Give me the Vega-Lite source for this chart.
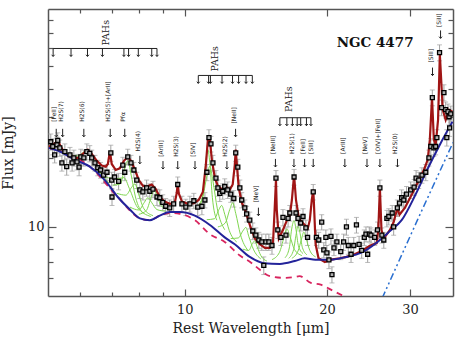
{
"$schema":"https://vega.github.io/schema/vega-lite/v6.json",
"width":405,"height":287,
"autosize":{"type":"none"},
"padding":{"left":48,"top":9,"right":16,"bottom":46},
"config":{"view":{"stroke":null},"font":"DejaVu Serif"},
"datasets":{
"pts":[{"w":5.20,"f":23.5,"e":1.9},{"w":5.25,"f":22.4,"e":1.8},{"w":5.30,"f":20.6,"e":1.6},{"w":5.36,"f":22.8,"e":1.8},{"w":5.38,"f":23.8,"e":1.9},{"w":5.435,"f":22.1,"e":1.8},{"w":5.49,"f":19.0,"e":1.5},{"w":5.57,"f":21.3,"e":1.7},{"w":5.62,"f":18.3,"e":1.5},{"w":5.71,"f":20.6,"e":1.6},{"w":5.77,"f":19.0,"e":1.5},{"w":5.82,"f":20.0,"e":1.6},{"w":5.91,"f":19.2,"e":1.5},{"w":5.97,"f":18.2,"e":1.5},{"w":6.02,"f":20.2,"e":1.6},{"w":6.11,"f":20.0,"e":1.6},{"w":6.20,"f":21.3,"e":1.7},{"w":6.29,"f":20.9,"e":1.7},{"w":6.35,"f":20.0,"e":1.6},{"w":6.45,"f":19.0,"e":1.5},{"w":6.54,"f":18.1,"e":1.4},{"w":6.63,"f":17.7,"e":1.4},{"w":6.73,"f":16.8,"e":1.3},{"w":6.84,"f":17.3,"e":1.4},{"w":6.97,"f":21.0,"e":1.7},{"w":7.00,"f":16.0,"e":1.3},{"w":7.01,"f":13.5,"e":1.1},{"w":7.10,"f":16.5,"e":1.3},{"w":7.24,"f":15.8,"e":1.3},{"w":7.39,"f":18.6,"e":1.5},{"w":7.46,"f":17.3,"e":1.4},{"w":7.57,"f":20.2,"e":1.6},{"w":7.69,"f":19.0,"e":1.5},{"w":7.80,"f":17.7,"e":1.4},{"w":7.91,"f":16.0,"e":1.3},{"w":8.03,"f":14.5,"e":1.2},{"w":8.15,"f":14.2,"e":1.1},{"w":8.30,"f":14.8,"e":1.2},{"w":8.43,"f":14.3,"e":1.1},{"w":8.56,"f":14.6,"e":1.2},{"w":8.73,"f":13.5,"e":1.1},{"w":8.85,"f":13.4,"e":1.1},{"w":8.98,"f":12.8,"e":1.0},{"w":9.11,"f":12.3,"e":1.0},{"w":9.29,"f":12.1,"e":1.0},{"w":9.47,"f":12.6,"e":1.0},{"w":9.66,"f":15.3,"e":1.2},{"w":9.86,"f":12.6,"e":1.0},{"w":10.05,"f":12.2,"e":1.0},{"w":10.25,"f":12.6,"e":1.0},{"w":10.45,"f":13.0,"e":1.0},{"w":10.65,"f":12.2,"e":1.0},{"w":10.87,"f":12.3,"e":1.0},{"w":11.03,"f":13.1,"e":1.0},{"w":11.14,"f":17.3,"e":1.4},{"w":11.25,"f":24.5,"e":2.0},{"w":11.36,"f":23.0,"e":1.8},{"w":11.47,"f":19.0,"e":1.5},{"w":11.64,"f":16.3,"e":1.3},{"w":11.75,"f":14.8,"e":1.2},{"w":11.86,"f":14.0,"e":1.1},{"w":12.03,"f":14.3,"e":1.1},{"w":12.15,"f":15.0,"e":1.2},{"w":12.33,"f":14.5,"e":1.2},{"w":12.51,"f":13.9,"e":1.1},{"w":12.70,"f":13.3,"e":1.1},{"w":12.82,"f":21.0,"e":1.7},{"w":12.95,"f":18.2,"e":1.5},{"w":13.08,"f":14.8,"e":1.2},{"w":13.20,"f":13.1,"e":1.0},{"w":13.40,"f":12.1,"e":1.0},{"w":13.52,"f":11.4,"e":0.9},{"w":13.73,"f":10.7,"e":0.9},{"w":13.93,"f":9.6,"e":0.8},{"w":14.14,"f":9.2,"e":0.7},{"w":14.35,"f":8.77,"e":0.7},{"w":14.56,"f":8.6,"e":0.7},{"w":14.70,"f":6.8,"e":0.6},{"w":14.85,"f":8.6,"e":0.7},{"w":15.07,"f":8.6,"e":0.7},{"w":15.30,"f":8.3,"e":0.7},{"w":15.60,"f":16.3,"e":1.3},{"w":15.74,"f":9.7,"e":0.8},{"w":15.98,"f":9.0,"e":0.7},{"w":16.14,"f":11.0,"e":0.9},{"w":16.38,"f":9.2,"e":0.7},{"w":16.55,"f":10.9,"e":0.9},{"w":16.69,"f":11.5,"e":0.9},{"w":17.04,"f":16.5,"e":1.3},{"w":17.20,"f":11.5,"e":0.9},{"w":17.37,"f":10.9,"e":0.9},{"w":17.60,"f":10.4,"e":0.8},{"w":17.80,"f":11.1,"e":0.9},{"w":18.05,"f":9.9,"e":0.8},{"w":18.20,"f":9.0,"e":0.7},{"w":18.71,"f":14.2,"e":1.1},{"w":19.00,"f":9.0,"e":0.7},{"w":19.22,"f":8.77,"e":0.7},{"w":19.50,"f":10.5,"e":0.8},{"w":19.70,"f":7.94,"e":0.6},{"w":19.90,"f":9.0,"e":0.7},{"w":20.00,"f":7.7,"e":0.6},{"w":20.20,"f":7.18,"e":0.6},{"w":20.40,"f":9.1,"e":0.7},{"w":20.50,"f":6.2,"e":0.5},{"w":20.70,"f":8.1,"e":0.6},{"w":21.00,"f":8.6,"e":0.7},{"w":21.40,"f":7.8,"e":0.6},{"w":21.70,"f":8.6,"e":0.7},{"w":22.00,"f":10.0,"e":0.8},{"w":22.20,"f":8.3,"e":0.7},{"w":22.50,"f":7.6,"e":0.6},{"w":22.80,"f":8.3,"e":0.7},{"w":23.10,"f":10.2,"e":0.8},{"w":23.40,"f":8.4,"e":0.7},{"w":23.70,"f":7.9,"e":0.6},{"w":24.00,"f":9.0,"e":0.7},{"w":24.20,"f":9.3,"e":0.7},{"w":24.40,"f":7.6,"e":0.6},{"w":24.60,"f":9.3,"e":0.7},{"w":24.80,"f":9.2,"e":0.7},{"w":25.25,"f":9.0,"e":0.7},{"w":25.60,"f":9.7,"e":0.8},{"w":25.90,"f":14.8,"e":1.2},{"w":26.15,"f":9.2,"e":0.7},{"w":26.40,"f":8.77,"e":0.7},{"w":26.80,"f":10.9,"e":0.9},{"w":27.05,"f":11.1,"e":0.9},{"w":27.50,"f":11.5,"e":0.9},{"w":27.70,"f":10.0,"e":0.8},{"w":28.20,"f":12.1,"e":1.0},{"w":28.50,"f":12.7,"e":1.0},{"w":28.80,"f":13.4,"e":1.1},{"w":29.10,"f":13.1,"e":1.0},{"w":29.50,"f":13.9,"e":1.1},{"w":30.10,"f":14.5,"e":1.2},{"w":30.60,"f":14.9,"e":1.2},{"w":30.90,"f":16.3,"e":1.3},{"w":31.30,"f":16.0,"e":1.3},{"w":31.80,"f":16.8,"e":1.3},{"w":32.40,"f":17.3,"e":1.4},{"w":32.90,"f":20.0,"e":1.6},{"w":33.20,"f":22.4,"e":1.8},{"w":33.45,"f":36.6,"e":2.9},{"w":33.70,"f":22.1,"e":1.8},{"w":34.00,"f":22.4,"e":1.8},{"w":34.20,"f":24.5,"e":2.0},{"w":34.65,"f":57.5,"e":4.6},{"w":35.00,"f":33.1,"e":2.6},{"w":35.40,"f":38.5,"e":3.1},{"w":35.70,"f":32.4,"e":2.6},{"w":36.10,"f":31.8,"e":2.5},{"w":36.30,"f":30.2,"e":2.4},{"w":36.40,"f":27.0,"e":2.2},{"w":36.60,"f":31.1,"e":2.5},{"w":35.90,"f":24.5,"e":2.0}],
"fit":[{"w":5.15,"f":22.4},{"w":5.23,"f":22.6},{"w":5.30,"f":23.1},{"w":5.38,"f":23.8},{"w":5.46,"f":22.4},{"w":5.54,"f":21.3},{"w":5.65,"f":20.4},{"w":5.79,"f":20.0},{"w":5.94,"f":20.0},{"w":6.08,"f":20.8},{"w":6.23,"f":21.7},{"w":6.35,"f":20.8},{"w":6.51,"f":19.4},{"w":6.67,"f":18.5},{"w":6.80,"f":18.3},{"w":6.87,"f":18.8},{"w":6.94,"f":21.3},{"w":7.00,"f":18.8},{"w":7.14,"f":17.7},{"w":7.28,"f":18.0},{"w":7.43,"f":19.4},{"w":7.57,"f":20.2},{"w":7.69,"f":19.4},{"w":7.84,"f":17.7},{"w":7.99,"f":16.0},{"w":8.15,"f":15.1},{"w":8.30,"f":15.0},{"w":8.51,"f":15.3},{"w":8.68,"f":14.6},{"w":8.85,"f":13.5},{"w":9.06,"f":12.9},{"w":9.29,"f":12.6},{"w":9.52,"f":12.7},{"w":9.61,"f":14.0},{"w":9.66,"f":15.4},{"w":9.71,"f":14.0},{"w":9.86,"f":12.9},{"w":10.15,"f":12.6},{"w":10.45,"f":12.7},{"w":10.7,"f":13.1},{"w":10.92,"f":14.2},{"w":11.08,"f":18.6},{"w":11.19,"f":24.0},{"w":11.3,"f":24.0},{"w":11.41,"f":19.6},{"w":11.58,"f":16.3},{"w":11.75,"f":15.1},{"w":11.97,"f":14.6},{"w":12.21,"f":15.0},{"w":12.45,"f":14.5},{"w":12.63,"f":15.3},{"w":12.76,"f":18.6},{"w":12.82,"f":21.7},{"w":12.88,"f":19.0},{"w":13.01,"f":14.8},{"w":13.2,"f":12.8},{"w":13.47,"f":11.6},{"w":13.73,"f":10.2},{"w":14.07,"f":8.9},{"w":14.42,"f":8.4},{"w":14.78,"f":8.1},{"w":15.14,"f":8.1},{"w":15.38,"f":8.6},{"w":15.5,"f":11.9},{"w":15.6,"f":16.0},{"w":15.66,"f":11.9},{"w":15.82,"f":8.9},{"w":16.14,"f":9.7},{"w":16.46,"f":10.7},{"w":16.69,"f":11.2},{"w":16.86,"f":13.1},{"w":17.04,"f":16.8},{"w":17.2,"f":13.1},{"w":17.45,"f":10.9},{"w":17.7,"f":10.5},{"w":17.96,"f":10.2},{"w":18.23,"f":9.9},{"w":18.4,"f":10.7},{"w":18.58,"f":13.1},{"w":18.71,"f":14.5},{"w":18.76,"f":13.1},{"w":18.93,"f":8.4},{"w":19.2,"f":7.3},{"w":19.8,"f":7.03},{"w":20.4,"f":7.2},{"w":21.3,"f":7.3},{"w":22.0,"f":7.4},{"w":22.9,"f":7.6},{"w":23.7,"f":7.86},{"w":24.66,"f":8.27},{"w":25.5,"f":8.5},{"w":25.7,"f":9.7},{"w":25.9,"f":14.8},{"w":26.1,"f":9.7},{"w":26.4,"f":8.9},{"w":27.2,"f":9.7},{"w":27.7,"f":10.5},{"w":28.2,"f":12.1},{"w":28.5,"f":11.3},{"w":29.25,"f":12.1},{"w":30.3,"f":13.9},{"w":31.15,"f":15.6},{"w":32.1,"f":17.7},{"w":32.7,"f":19.6},{"w":33.05,"f":24.0},{"w":33.4,"f":36.6},{"w":33.7,"f":24.0},{"w":34.0,"f":22.8},{"w":34.4,"f":29.3},{"w":34.7,"f":56.3},{"w":35.2,"f":32.4},{"w":35.7,"f":29.3},{"w":36.3,"f":32.4},{"w":36.9,"f":31.8}],
"cont":[{"w":5.15,"f":22.1},{"w":5.435,"f":21.3},{"w":5.85,"f":19.6},{"w":6.29,"f":18.3},{"w":6.77,"f":16.0},{"w":7.21,"f":13.5},{"w":7.65,"f":11.9},{"w":8.03,"f":10.9},{"w":8.43,"f":10.7},{"w":8.85,"f":11.2},{"w":9.29,"f":11.6},{"w":9.76,"f":11.6},{"w":10.5,"f":11.2},{"w":11.3,"f":10.2},{"w":12.15,"f":9.0},{"w":12.76,"f":8.4},{"w":13.73,"f":7.4},{"w":14.7,"f":6.95},{"w":15.9,"f":6.9},{"w":17.1,"f":7.1},{"w":17.95,"f":7.3},{"w":18.9,"f":7.2},{"w":20.4,"f":7.2},{"w":22.0,"f":7.4},{"w":23.6,"f":7.7},{"w":25.6,"f":8.6},{"w":27.2,"f":9.6},{"w":28.8,"f":10.7},{"w":30.8,"f":13.8},{"w":32.6,"f":17.7},{"w":34.7,"f":22.8},{"w":36.9,"f":28.7}],
"star":[{"w":5.15,"f":22.1},{"w":6.29,"f":18.3},{"w":7.21,"f":13.5},{"w":8.03,"f":10.9},{"w":8.43,"f":10.7},{"w":8.85,"f":11.2},{"w":9.29,"f":11.5},{"w":9.76,"f":11.4},{"w":10.5,"f":10.7},{"w":11.3,"f":9.3},{"w":12.15,"f":8.6},{"w":13.08,"f":7.5},{"w":13.8,"f":7.0},{"w":14.42,"f":6.5},{"w":15.14,"f":6.1},{"w":16.2,"f":6.0},{"w":17.1,"f":6.05},{"w":17.5,"f":6.1},{"w":18.5,"f":5.7},{"w":19.4,"f":5.6},{"w":20.6,"f":5.27},{"w":21.9,"f":4.95}],
"dust":[{"w":26.2,"f":4.9},{"w":31.1,"f":10.7},{"w":37.0,"f":23.3}],
"pah":[
{"c":"a","w":5.62,"f":20.85},{"c":"a","w":5.93,"f":20.4},{"c":"a","w":6.11,"f":21.2},{"c":"a","w":6.23,"f":21.6},{"c":"a","w":6.35,"f":20.3},{"c":"a","w":6.56,"f":17.9},{"c":"a","w":6.91,"f":15.5},
{"c":"b","w":6.51,"f":17.7},{"c":"b","w":6.96,"f":16.3},{"c":"b","w":7.23,"f":16.25},{"c":"b","w":7.43,"f":16.4},{"c":"b","w":7.63,"f":14.7},{"c":"b","w":7.93,"f":12.2},{"c":"b","w":8.47,"f":11.1},
{"c":"c","w":7.04,"f":15.2},{"c":"c","w":7.30,"f":15.4},{"c":"c","w":7.46,"f":18.05},{"c":"c","w":7.57,"f":19.4},{"c":"c","w":7.69,"f":17.0},{"c":"c","w":7.86,"f":13.5},{"c":"c","w":8.15,"f":11.5},
{"c":"d","w":7.18,"f":14.0},{"c":"d","w":7.50,"f":13.75},{"c":"d","w":7.70,"f":14.8},{"c":"d","w":7.84,"f":15.4},{"c":"d","w":7.98,"f":13.9},{"c":"d","w":8.19,"f":12.0},{"c":"d","w":8.56,"f":11.2},
{"c":"e","w":7.65,"f":12.2},{"c":"e","w":7.99,"f":11.85},{"c":"e","w":8.21,"f":12.8},{"c":"e","w":8.35,"f":13.4},{"c":"e","w":8.50,"f":12.8},{"c":"e","w":8.73,"f":11.9},{"c":"e","w":9.11,"f":11.7},
{"c":"f","w":7.99,"f":11.35},{"c":"f","w":8.29,"f":11.8},{"c":"f","w":8.47,"f":13.3},{"c":"f","w":8.60,"f":14.4},{"c":"f","w":8.73,"f":13.65},{"c":"f","w":8.91,"f":12.35},{"c":"f","w":9.25,"f":11.9},
{"c":"g","w":10.7,"f":12.15},{"c":"g","w":10.95,"f":14.3},{"c":"g","w":11.07,"f":19.05},{"c":"g","w":11.19,"f":21.7},{"c":"g","w":11.31,"f":18.5},{"c":"g","w":11.44,"f":13.4},{"c":"g","w":11.69,"f":10.7},
{"c":"h","w":10.5,"f":12.1},{"c":"h","w":10.9,"f":13.35},{"c":"h","w":11.13,"f":16.55},{"c":"h","w":11.3,"f":18.4},{"c":"h","w":11.47,"f":15.85},{"c":"h","w":11.72,"f":11.98},{"c":"h","w":12.15,"f":9.72},
{"c":"i","w":11.13,"f":10.75},{"c":"i","w":11.55,"f":10.85},{"c":"i","w":11.81,"f":11.9},{"c":"i","w":11.97,"f":12.4},{"c":"i","w":12.15,"f":11.35},{"c":"i","w":12.42,"f":9.65},{"c":"i","w":12.88,"f":8.6},
{"c":"j","w":11.75,"f":10.0},{"c":"j","w":12.18,"f":10.4},{"c":"j","w":12.45,"f":11.9},{"c":"j","w":12.63,"f":12.75},{"c":"j","w":12.82,"f":11.45},{"c":"j","w":13.11,"f":9.3},{"c":"j","w":13.6,"f":7.9},
{"c":"k","w":12.51,"f":8.9},{"c":"k","w":12.98,"f":8.95},{"c":"k","w":13.27,"f":9.6},{"c":"k","w":13.47,"f":9.95},{"c":"k","w":13.66,"f":9.1},{"c":"k","w":13.97,"f":8.0},{"c":"k","w":14.49,"f":7.25},
{"c":"l","w":13.27,"f":8.0},{"c":"l","w":13.66,"f":7.9},{"c":"l","w":13.9,"f":8.45},{"c":"l","w":14.07,"f":8.7},{"c":"l","w":14.23,"f":8.2},{"c":"l","w":14.49,"f":7.5},{"c":"l","w":14.92,"f":7.1},
{"c":"m","w":15.3,"f":7.2},{"c":"m","w":15.87,"f":7.75},{"c":"m","w":16.22,"f":9.0},{"c":"m","w":16.46,"f":9.8},{"c":"m","w":16.69,"f":9.15},{"c":"m","w":17.07,"f":7.98},{"c":"m","w":17.7,"f":7.5},
{"c":"n","w":16.3,"f":7.33},{"c":"n","w":16.65,"f":8.1},{"c":"n","w":16.83,"f":9.7},{"c":"n","w":17.04,"f":10.65},{"c":"n","w":17.2,"f":9.75},{"c":"n","w":17.4,"f":8.3},{"c":"n","w":17.8,"f":7.65},
{"c":"o","w":16.6,"f":7.3},{"c":"o","w":17.0,"f":7.95},{"c":"o","w":17.2,"f":9.2},{"c":"o","w":17.37,"f":10.05},{"c":"o","w":17.55,"f":9.35},{"c":"o","w":17.74,"f":8.15},{"c":"o","w":18.15,"f":7.55},
{"c":"p","w":16.86,"f":7.3},{"c":"p","w":17.37,"f":7.85},{"c":"p","w":17.67,"f":8.85},{"c":"p","w":17.87,"f":9.5},{"c":"p","w":18.07,"f":8.9},{"c":"p","w":18.4,"f":7.9},{"c":"p","w":18.93,"f":7.4}],
"lbl":[{"w":5.34,"f":28.7,"t":"[FeII]"},{"w":5.51,"f":28.7,"t":"H2S(7)"},{"w":6.11,"f":28.7,"t":"H2S(6)"},{"w":6.95,"f":28.7,"t":"H2S(5)+[ArII]"},{"w":7.46,"f":28.7,"t":"Pfα"},{"w":8.03,"f":21.3,"t":"H2S(4)"},{"w":8.99,"f":20.2,"t":"[ArIII]"},{"w":9.66,"f":20.2,"t":"H2S(3)"},{"w":10.51,"f":20.2,"t":"[SIV]"},{"w":12.28,"f":20.2,"t":"H2S(2)"},{"w":12.81,"f":28.2,"t":"[NeII]"},{"w":14.32,"f":12.8,"t":"[NeV]"},{"w":15.56,"f":20.8,"t":"[NeIII]"},{"w":17.03,"f":20.8,"t":"H2S(1)"},{"w":17.94,"f":20.8,"t":"[FeII]"},{"w":18.71,"f":20.8,"t":"[SIII]"},{"w":21.83,"f":20.8,"t":"[ArIII]"},{"w":24.32,"f":20.8,"t":"[NeV]"},{"w":25.9,"f":20.8,"t":"[OIV]+[FeII]"},{"w":28.22,"f":20.8,"t":"H2S(0)"},{"w":33.48,"f":52.0,"t":"[SIII]"},{"w":34.82,"f":74.3,"t":"[SiII]"}],
"arr":[{"w":5.34,"f":26.75,"f2":24.7},{"w":5.51,"f":26.75,"f2":24.7},{"w":6.11,"f":26.75,"f2":24.7},{"w":6.95,"f":26.75,"f2":24.7},{"w":7.46,"f":26.75,"f2":24.7},{"w":8.03,"f":20.4,"f2":18.83},{"w":8.99,"f":19.36,"f2":17.87},{"w":9.66,"f":19.36,"f2":17.87},{"w":10.51,"f":19.36,"f2":17.87},{"w":12.28,"f":19.36,"f2":17.87},{"w":12.81,"f":26.75,"f2":24.7},{"w":14.32,"f":12.13,"f2":11.19},{"w":15.56,"f":19.78,"f2":18.25},{"w":17.03,"f":19.78,"f2":18.25},{"w":17.94,"f":19.78,"f2":18.25},{"w":18.71,"f":19.78,"f2":18.25},{"w":21.83,"f":19.78,"f2":18.25},{"w":24.32,"f":19.78,"f2":18.25},{"w":25.9,"f":19.78,"f2":18.25},{"w":28.22,"f":19.78,"f2":18.25},{"w":33.48,"f":49.45,"f2":45.63},{"w":34.82,"f":71.8,"f2":66.3},
{"w":5.26,"f":59.9,"f2":55.3},{"w":5.74,"f":59.9,"f2":55.3},{"w":6.22,"f":59.9,"f2":55.3},{"w":6.69,"f":59.9,"f2":55.3},{"w":7.43,"f":59.9,"f2":55.3},{"w":7.60,"f":59.9,"f2":55.3},{"w":7.97,"f":59.9,"f2":55.3},{"w":8.51,"f":59.9,"f2":55.3},{"w":8.73,"f":59.9,"f2":55.3},
{"w":10.68,"f":45.7,"f2":42.2},{"w":11.23,"f":45.7,"f2":42.2},{"w":11.33,"f":45.7,"f2":42.2},{"w":11.99,"f":45.7,"f2":42.2},{"w":12.62,"f":45.7,"f2":42.2},{"w":13.0,"f":45.7,"f2":42.2},{"w":13.48,"f":45.7,"f2":42.2},{"w":13.9,"f":45.7,"f2":42.2},
{"w":15.9,"f":29.9,"f2":27.6},{"w":16.45,"f":29.9,"f2":27.6},{"w":16.9,"f":29.9,"f2":27.6},{"w":17.3,"f":29.9,"f2":27.6},{"w":17.6,"f":29.9,"f2":27.6},{"w":18.1,"f":29.9,"f2":27.6},{"w":18.5,"f":29.9,"f2":27.6}],
"brk":[{"w":5.26,"w2":8.73,"f":59.9},{"w":10.68,"w2":13.9,"f":45.7},{"w":15.9,"w2":18.5,"f":29.9}],
"pahl":[{"w":6.9,"f":61.7,"t":"PAHs"},{"w":11.75,"f":47.5,"t":"PAHs"},{"w":16.9,"f":31.7,"t":"PAHs"}],
"name":[{"w":25.3,"f":63.0,"t":"NGC 4477"}]
},
"encoding":{
"x":{"field":"w","type":"quantitative","scale":{"type":"log","domain":[5.13,37],"nice":false},"axis":null},
"y":{"field":"f","type":"quantitative","scale":{"type":"log","domain":[5,89],"nice":false},"axis":null}
},
"layer":[
{"data":{"name":"pts"},"mark":{"type":"errorbar","ticks":{"size":5,"color":"#a0a0a0"},"color":"#a0a0a0","clip":true},"encoding":{"yError":{"field":"e"}}},
{"data":{"name":"pah"},"mark":{"type":"line","color":"#7fd650","strokeWidth":1,"interpolate":"monotone","clip":true},"encoding":{"detail":{"field":"c"}}},
{"data":{"name":"star"},"mark":{"type":"line","color":"#d8245e","strokeWidth":1.8,"strokeDash":[6,5],"interpolate":"monotone","clip":true},"encoding":{}},
{"data":{"name":"dust"},"mark":{"type":"line","color":"#2a6fd0","strokeWidth":1.5,"strokeDash":[7,3,2,3,2,3],"clip":true},"encoding":{}},
{"data":{"name":"fit"},"mark":{"type":"line","color":"#a01515","strokeWidth":2.2,"clip":true},
"encoding":{
"x":{"field":"w","type":"quantitative","scale":{"type":"log","domain":[5.13,37],"nice":false},"axis":{"orient":"top","values":[6,7,8,9,10,20,30],"labels":false,"title":null,"grid":false,"domainColor":"#555","domainWidth":1.5,"tickColor":"#555","tickWidth":1.2,"tickSize":{"condition":{"test":"datum.value==10||datum.value==20||datum.value==30","value":-7},"value":-4}}},
"y":{"field":"f","type":"quantitative","scale":{"type":"log","domain":[5,89],"nice":false},"axis":{"orient":"right","values":[6,7,8,9,10,20,30,40,50,60,70,80],"labels":false,"title":null,"grid":false,"domainColor":"#555","domainWidth":1.5,"tickColor":"#555","tickWidth":1.2,"tickSize":{"condition":{"test":"datum.value==10","value":-8},"value":-5}}}}},
{"data":{"name":"cont"},"mark":{"type":"line","color":"#23239a","strokeWidth":2,"interpolate":"monotone","clip":true},
"encoding":{
"x":{"field":"w","type":"quantitative","scale":{"type":"log","domain":[5.13,37],"nice":false},"axis":{"orient":"bottom","values":[6,7,8,9,10,20,30],"labelExpr":"(datum.value==10||datum.value==20||datum.value==30) ? datum.label : ''","grid":false,"domainColor":"#555","domainWidth":1.5,"tickColor":"#555","tickWidth":1.2,"tickSize":{"condition":{"test":"datum.value==10||datum.value==20||datum.value==30","value":-7},"value":-4},"labelFont":"DejaVu Serif","labelFontSize":13,"labelColor":"#222","labelPadding":14,"labelFlush":false,"title":"Rest Wavelength [μm]","titleFont":"DejaVu Serif","titleFontSize":14,"titleFontWeight":"normal","titleColor":"#222","titlePadding":5}},
"y":{"field":"f","type":"quantitative","scale":{"type":"log","domain":[5,89],"nice":false},"axis":{"orient":"left","values":[6,7,8,9,10,20,30,40,50,60,70,80],"labelExpr":"datum.value==10 ? '10' : ''","grid":false,"domainColor":"#555","domainWidth":1.5,"tickColor":"#555","tickWidth":1.2,"tickSize":{"condition":{"test":"datum.value==10","value":-8},"value":-5},"labelFont":"DejaVu Serif","labelFontSize":13,"labelColor":"#222","labelPadding":12,"labelFlush":false,"title":"Flux [mJy]","titleFont":"DejaVu Serif","titleFontSize":14,"titleFontWeight":"normal","titleColor":"#222","titlePadding":12}}}},
{"data":{"name":"pts"},"mark":{"type":"point","shape":"square","filled":true,"fill":"#b0b0b0","stroke":"#000","strokeWidth":1.3,"size":16,"opacity":1,"clip":true}},
{"data":{"name":"brk"},"mark":{"type":"rule","color":"#222","strokeWidth":1},"encoding":{"x2":{"field":"w2"}}},
{"data":{"name":"arr"},"mark":{"type":"rule","color":"#222","strokeWidth":1},"encoding":{"y2":{"field":"f2"}}},
{"data":{"name":"arr"},"mark":{"type":"point","shape":"M-1,-1.1L0,0L1,-1.1","filled":false,"stroke":"#222","strokeWidth":1,"size":9,"opacity":1},"encoding":{"y":{"field":"f2","type":"quantitative","scale":{"type":"log","domain":[5,89],"nice":false},"axis":null}}},
{"data":{"name":"pahl"},"mark":{"type":"text","angle":270,"align":"left","baseline":"alphabetic","font":"DejaVu Serif","fontSize":9.5,"color":"#222"},"encoding":{"text":{"field":"t"}}},
{"data":{"name":"lbl"},"mark":{"type":"text","angle":270,"align":"left","baseline":"alphabetic","font":"DejaVu Sans","fontSize":6,"color":"#222"},"encoding":{"text":{"field":"t"}}},
{"data":{"name":"name"},"mark":{"type":"text","align":"center","baseline":"middle","font":"DejaVu Serif","fontSize":13.5,"fontWeight":"bold","color":"#111"},"encoding":{"text":{"field":"t"}}}
],
"resolve":{"axis":{"x":"independent","y":"independent"}}
}
